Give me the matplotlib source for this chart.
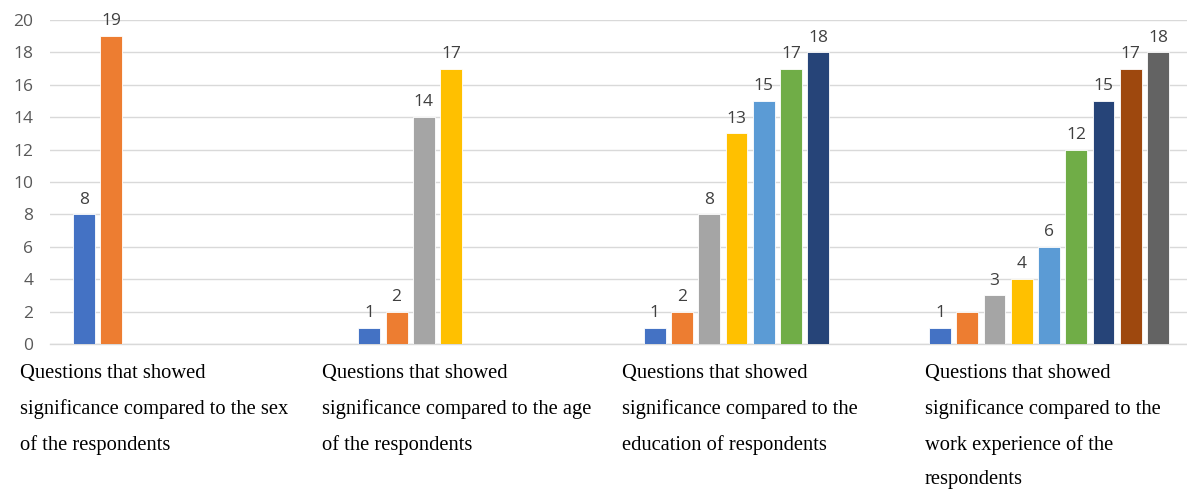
import matplotlib
matplotlib.use("Agg")
import matplotlib.pyplot as plt
import numpy as np

categories = [
    "Questions that showed\nsignificance compared to the sex\nof the respondents",
    "Questions that showed\nsignificance compared to the age\nof the respondents",
    "Questions that showed\nsignificance compared to the\neducation of respondents",
    "Questions that showed\nsignificance compared to the\nwork experience of the\nrespondents",
]
group_values = [
    [8, 19],
    [1, 2, 14, 17],
    [1, 2, 8, 13, 15, 17, 18],
    [1, 2, 3, 4, 6, 12, 15, 17, 18],
]
# data labels hidden in the original (group index, bar index)
hidden_labels = [(3, 1)]
colors = ["#4472C4", "#ED7D31", "#A5A5A5", "#FFC000", "#5B9BD5",
          "#70AD47", "#264478", "#9E480E", "#636363"]
yticks = [0, 2, 4, 6, 8, 10, 12, 14, 16, 18, 20]

W, H = 1187, 492
fig = plt.figure(figsize=(W / 100, H / 100), dpi=100)
ax = fig.add_axes([50 / W, 148 / H, 1 - 50 / W, (344 - 20) / H])

G = 285.3 / 27.25  # group spacing in slot units
bw = 0.8
for gi, vals in enumerate(group_values):
    for j, v in enumerate(vals):
        x = gi * G + (j - 4)
        ax.bar(x, v, width=bw, color=colors[j], edgecolor="white",
               linewidth=0.6, zorder=3)
        if (gi, j) not in hidden_labels:
            ax.text(x, v + 0.42, str(v), ha="center", va="bottom",
                    fontsize=12.5, color="#404040", family="Open Sans", zorder=4)

ax.set_xlim(-5.25, -5.25 + (W - 50) / 27.25)
ax.set_ylim(0, 20)
ax.set_yticks(yticks)
ax.set_yticklabels([str(t) for t in yticks], fontsize=12.5, color="#595959",
                   family="Open Sans")
ax.tick_params(axis="y", length=0, pad=12)
ax.set_xticks([])
ax.yaxis.grid(True, color="#D9D9D9", linewidth=1.0, zorder=0)
ax.set_axisbelow(True)
for s in ["top", "right", "left"]:
    ax.spines[s].set_visible(False)
ax.spines["bottom"].set_color("#D9D9D9")
ax.spines["bottom"].set_linewidth(1.0)

text_x = [20, 322, 622, 925]
for tx, cat in zip(text_x, categories):
    fig.text(tx / W, 1 - 364 / H, cat, ha="left", va="top",
             fontsize=14.8, family="Liberation Serif", color="#000000",
             linespacing=2.07)

fig.savefig("out.png", dpi=100)
